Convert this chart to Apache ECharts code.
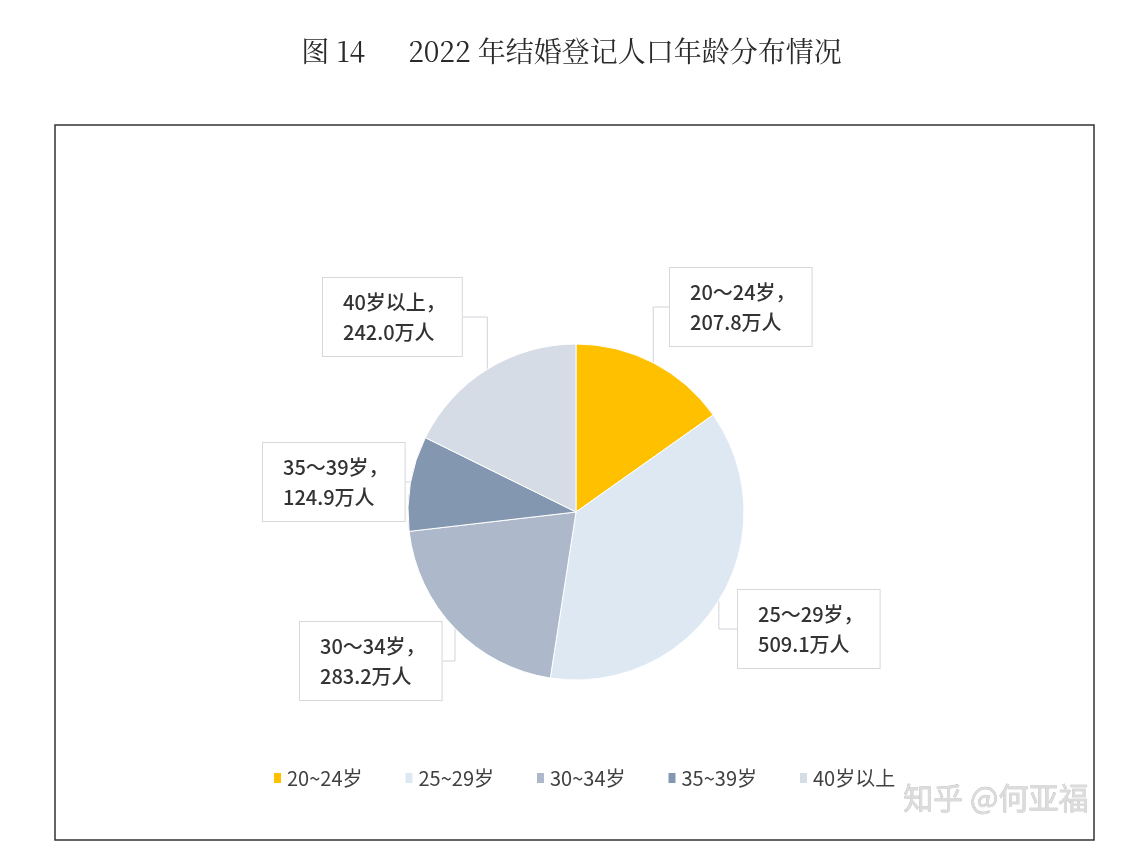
<!DOCTYPE html>
<html>
<head>
<meta charset="utf-8">
<script src="https://cdn.jsdelivr.net/npm/echarts@6/dist/echarts.min.js"></script>
<style>html,body{margin:0;padding:0;background:#fff;}#c{width:1143px;height:847px;}</style>
</head>
<body>
<div id="c"></div>
<script>
const titleText = '图 14      2022 年结婚登记人口年龄分布情况';
const categories = ['20～24岁', '25～29岁', '30～34岁', '35～39岁', '40岁以上'];
const values = [207.8, 509.1, 283.2, 124.9, 242.0];
const colors = ['#FFC000', '#DEE8F3', '#ADB9CA', '#8497B0', '#D6DCE5'];
const unit = '万人';

const labelPos = [
  [670, 268],
  [738, 590],
  [300, 622],
  [263, 443],
  [323, 278]
];

const chart = echarts.init(document.getElementById('c'));
const font = '"Microsoft YaHei","Noto Sans CJK SC","Noto Sans",sans-serif';
chart.setOption({
  backgroundColor: '#fff',
  animation: false,
  title: {
    text: titleText,
    left: 'center',
    top: 32,
    textStyle: { fontFamily: '"Noto Serif CJK SC","Noto Sans CJK SC",serif', fontSize: 28, fontWeight: 'normal', color: '#2a2a2a' }
  },
  graphic: [
    { type: 'rect', shape: { x: 55, y: 125, width: 1039, height: 715 }, style: { fill: 'none', stroke: '#333', lineWidth: 1.5 }, z: 0 },
    { type: 'text', left: 903, top: 782, style: { text: '知乎 @何亚福', font: '30px "Noto Sans CJK SC",sans-serif', fill: '#dcdcdc', stroke: '#b8b8b8', lineWidth: 0.6 }, z: 10 }
  ],
  legend: {
    left: 267,
    top: 763,
    itemWidth: 9,
    itemHeight: 12,
    itemGap: 41,
    icon: 'rect',
    formatter: n => n.replace('～', '~'),
    textStyle: { fontFamily: font, fontSize: 20, color: '#404040' },
    data: categories
  },
  series: [{
    type: 'pie',
    center: [576, 512],
    radius: 168,
    startAngle: 90,
    clockwise: true,
    data: categories.map((n, i) => ({ name: n, value: values[i], itemStyle: { color: colors[i] } })),
    itemStyle: { borderColor: '#fff', borderWidth: 1 },
    label: {
      show: true,
      position: 'outside',
      formatter: p => p.name + '，\n' + p.value.toFixed(1) + unit,
      fontFamily: font,
      fontSize: 20,
      fontWeight: 500,
      lineHeight: 30,
      color: '#333',
      backgroundColor: '#fff',
      borderColor: '#d8d8d8',
      borderWidth: 1,
      padding: [9, 16, 9, 20],
      align: 'left'
    },
    labelLine: { show: true, lineStyle: { color: '#cfd4da', width: 1 } },
    labelLayout: p => ({ x: labelPos[p.dataIndex][0], y: labelPos[p.dataIndex][1], align: 'left', verticalAlign: 'top' })
  }]
});
</script>
</body>
</html>
